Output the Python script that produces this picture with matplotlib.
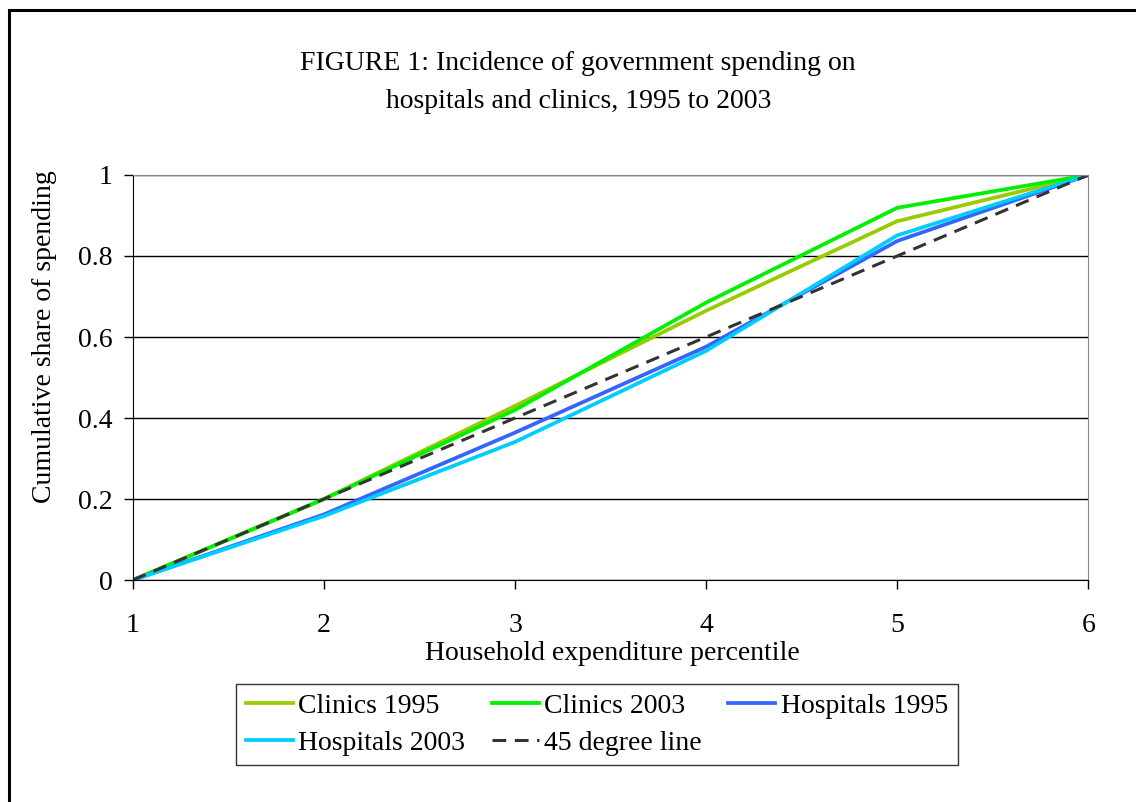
import matplotlib
matplotlib.use("Agg")
import matplotlib.pyplot as plt
from matplotlib.patches import Rectangle

plt.rcParams["font.family"] = ["Liberation Serif", "DejaVu Serif"]

# data
percentile = [1, 2, 3, 4, 5, 6]
clinics_1995 = [0, 0.20, 0.43, 0.665, 0.886, 1]
clinics_2003 = [0, 0.20, 0.42, 0.685, 0.919, 1]
hospitals_1995 = [0, 0.162, 0.364, 0.576, 0.837, 1]
hospitals_2003 = [0, 0.158, 0.341, 0.566, 0.851, 1]
line_45 = [0, 0.2, 0.4, 0.6, 0.8, 1]

fs = 20
fig = plt.figure(figsize=(11.36, 8.02), dpi=100)
ax = fig.add_axes([0.117, 0.2768, 0.841, 0.505])

# outer chart frame (only top and left edges show in the picture)
fig.patches.append(Rectangle((0.008, -0.05), 1.1, 1.038, transform=fig.transFigure,
                             fill=False, edgecolor="black", linewidth=2.2))

lw = 2.7
l1, = ax.plot(percentile, clinics_1995, color="#99CC00", lw=lw, label="Clinics 1995")
l2, = ax.plot(percentile, clinics_2003, color="#00F000", lw=lw, label="Clinics 2003")
l3, = ax.plot(percentile, hospitals_1995, color="#3366FF", lw=lw, label="Hospitals 1995")
l4, = ax.plot(percentile, hospitals_2003, color="#00CCFF", lw=lw, label="Hospitals 2003")
l5, = ax.plot(percentile, line_45, color="#333333", lw=2.2, dashes=(4.5, 2.8), label="45 degree line")

ax.set_xlim(1, 6)
ax.set_ylim(0, 1)
ax.set_xticks(percentile)
ax.set_yticks([0, 0.2, 0.4, 0.6, 0.8, 1])
ax.set_yticklabels(["0", "0.2", "0.4", "0.6", "0.8", "1"])
ax.tick_params(labelsize=fs, direction="out", length=6.5, color="black", width=1)
ax.tick_params(axis="x", pad=17)
ax.tick_params(axis="y", pad=8)
ax.grid(axis="y", color="black", linewidth=1)
ax.set_axisbelow(True)
for s in ["top", "right"]:
    ax.spines[s].set_color("#888888")
for s in ["left", "bottom"]:
    ax.spines[s].set_color("black")

ax.set_xlabel("Household expenditure percentile", fontsize=fs)
ax.xaxis.set_label_coords(0.502, -0.151)
ax.set_ylabel("Cumulative share of spending", fontsize=fs, va="center")
ax.yaxis.set_label_coords(-0.093, 0.60)

fig.text(0.509, 0.897, "FIGURE 1: Incidence of government spending on\nhospitals and clinics, 1995 to 2003",
         ha="center", va="center", fontsize=fs, linespacing=1.65)

leg = fig.legend([l1, l4, l2, l5, l3],
                 ["Clinics 1995", "Hospitals 2003", "Clinics 2003", "45 degree line", "Hospitals 1995"],
                 ncol=3, loc="center", bbox_to_anchor=(0.5255, 0.0965), fontsize=fs,
                 frameon=True, fancybox=False, edgecolor="black", handlelength=1.69,
                 handletextpad=0.2, columnspacing=0.95, labelspacing=0.4, borderpad=0.35)
leg.get_frame().set_linewidth(1.0)

fig.savefig("out.png", dpi=100)
